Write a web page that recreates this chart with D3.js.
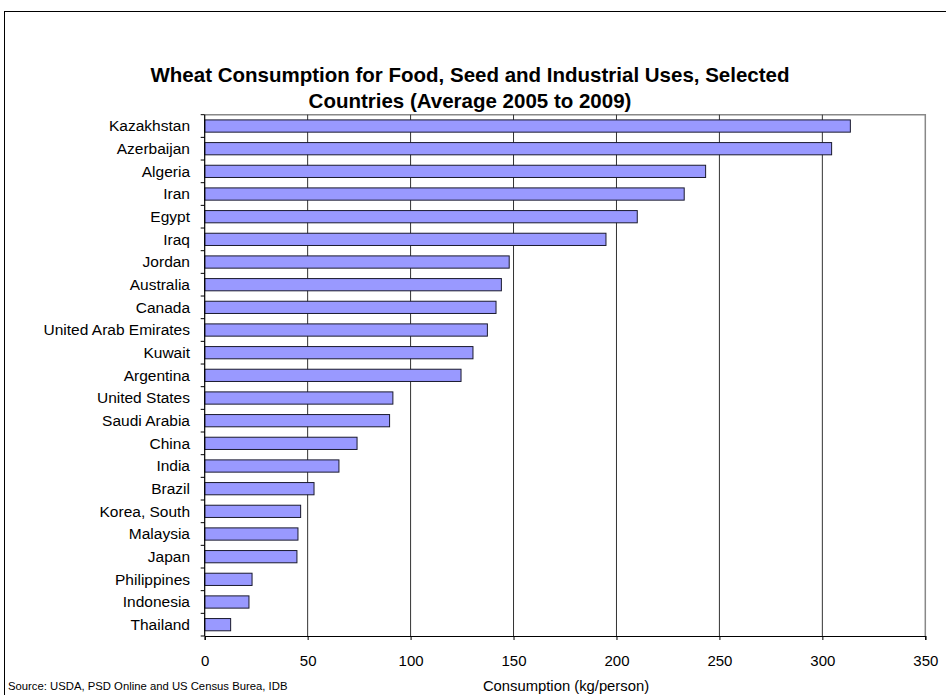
<!DOCTYPE html>
<html>
<head>
<meta charset="utf-8">
<script src="https://cdn.jsdelivr.net/npm/d3@7"></script>
<style>
  html, body { margin: 0; padding: 0; background: #fff; }
  svg { display: block; font-family: "Liberation Sans", Arial, sans-serif; }
</style>
</head>
<body>
<svg id="chart" width="946" height="695"></svg>
<script>
// Wheat consumption (kg/person), average 2005-2009
const countries = [
  "Kazakhstan", "Azerbaijan", "Algeria", "Iran", "Egypt", "Iraq", "Jordan",
  "Australia", "Canada", "United Arab Emirates", "Kuwait", "Argentina",
  "United States", "Saudi Arabia", "China", "India", "Brazil", "Korea, South",
  "Malaysia", "Japan", "Philippines", "Indonesia", "Thailand"
];
const consumption = [
  313.6, 304.5, 243.3, 232.9, 210.1, 194.9, 147.9,
  144.1, 141.5, 137.3, 130.3, 124.5,
  91.4, 89.8, 74.0, 65.2, 53.1, 46.6,
  45.3, 44.8, 23.0, 21.5, 12.6
];
const xTicks = [0, 50, 100, 150, 200, 250, 300, 350];
const titleLines = [
  "Wheat Consumption for Food, Seed and Industrial Uses, Selected",
  "Countries (Average  2005 to 2009)"
];
const xAxisTitle = "Consumption (kg/person)";
const sourceNote = "Source:  USDA, PSD Online and US Census Burea, IDB";

const svg = d3.select("#chart");
const W = 946, H = 695;
const plot = { left: 204.7, right: 925.3, top: 114.7, bottom: 636 };

svg.append("rect").attr("width", W).attr("height", H).attr("fill", "#fff");

// outer frame
svg.append("rect")
  .attr("x", 4.5).attr("y", 11.5)
  .attr("width", W + 10).attr("height", H + 10)
  .attr("fill", "none").attr("stroke", "#000").attr("stroke-width", 1);

// title
svg.append("text")
  .attr("text-anchor", "middle")
  .attr("font-size", 20.5).attr("font-weight", "bold").attr("fill", "#000")
  .selectAll("tspan").data(titleLines).join("tspan")
  .attr("x", 470).attr("y", (d, i) => 82 + i * 26)
  .text(d => d);

const x = d3.scaleLinear().domain([0, 350]).range([plot.left, plot.right]);
const y = d3.scaleBand().domain(countries).range([plot.top, plot.bottom])
  .paddingInner(0.46).paddingOuter(0.23);

// plot area border (top & right)
svg.append("path")
  .attr("d", `M${plot.left},${plot.top}H${plot.right}V${plot.bottom}`)
  .attr("fill", "none").attr("stroke", "#888").attr("stroke-width", 1.5);

// vertical gridlines
svg.append("g").selectAll("line")
  .data(xTicks.filter(t => t > 0 && t < 350)).join("line")
  .attr("x1", d => x(d)).attr("x2", d => x(d))
  .attr("y1", plot.top).attr("y2", plot.bottom)
  .attr("stroke", "#333").attr("stroke-width", 1);

// bars
svg.append("g").selectAll("rect")
  .data(countries).join("rect")
  .attr("x", x(0))
  .attr("y", d => y(d))
  .attr("width", (d, i) => x(consumption[i]) - x(0))
  .attr("height", y.bandwidth())
  .attr("fill", "#9999FF")
  .attr("stroke", "#1a1a2e").attr("stroke-width", 1);

// y axis: line, ticks at category boundaries, labels
const bounds = d3.range(countries.length + 1)
  .map(i => plot.top + i * (plot.bottom - plot.top) / countries.length);
const yAxis = svg.append("g");
yAxis.append("line")
  .attr("x1", plot.left).attr("x2", plot.left)
  .attr("y1", plot.top).attr("y2", plot.bottom)
  .attr("stroke", "#000").attr("stroke-width", 1.2);
yAxis.selectAll("line.tick").data(bounds).join("line").attr("class", "tick")
  .attr("x1", plot.left - 4).attr("x2", plot.left)
  .attr("y1", d => d).attr("y2", d => d)
  .attr("stroke", "#000");
yAxis.selectAll("text").data(countries).join("text")
  .attr("x", 190).attr("y", d => y(d) + y.bandwidth() / 2)
  .attr("dy", "0.35em").attr("text-anchor", "end")
  .attr("font-size", 15.5).attr("fill", "#000")
  .text(d => d);

// x axis
const xAxis = svg.append("g").attr("transform", `translate(0,${plot.bottom})`)
  .call(d3.axisBottom(x).tickValues(xTicks).tickSize(4).tickPadding(15));
xAxis.select(".domain").attr("stroke", "#000").attr("stroke-width", 1.2);
xAxis.selectAll(".tick line").attr("stroke", "#000");
xAxis.selectAll(".tick text")
  .attr("font-size", 15).attr("font-family", "'Liberation Sans', Arial, sans-serif")
  .attr("fill", "#000");

// axis title
svg.append("text")
  .attr("x", 566).attr("y", 691).attr("text-anchor", "middle")
  .attr("font-size", 14.8).attr("fill", "#000")
  .text(xAxisTitle);

// source note
svg.append("text")
  .attr("x", 8).attr("y", 690)
  .attr("font-size", 11.3).attr("fill", "#000")
  .text(sourceNote);
</script>
</body>
</html>
